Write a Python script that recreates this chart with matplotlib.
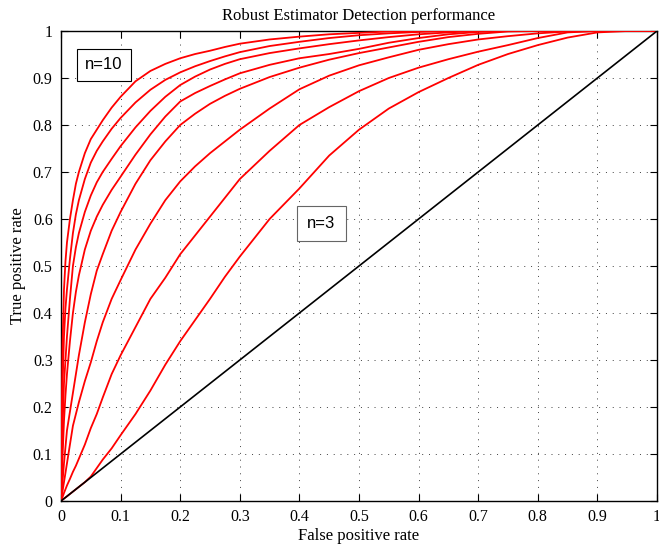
import matplotlib
matplotlib.use("Agg")
import matplotlib.pyplot as plt

# False-positive-rate sample points shared by all ROC curves
fpr = [0, 0.0025, 0.005, 0.0075, 0.01, 0.015, 0.02, 0.025, 0.03, 0.04,
       0.05, 0.06, 0.07, 0.085, 0.1, 0.125, 0.15, 0.175, 0.2, 0.225, 0.25,
       0.275, 0.3, 0.35, 0.4, 0.45, 0.5, 0.55, 0.6, 0.65, 0.7, 0.75, 0.8,
       0.85, 0.9, 0.95, 1.0]

# True positive rate for each sample size n
tpr_n10 = [0, .33, .45, .51, .55, .60, .64, .675, .70, .74,
           .77, .79, .81, .837, .86, .893, .915, .93, .942, .951, .958,
           .966, .973, .982, .988, .993, .996, .999, 1, 1, 1, 1, 1,
           1, 1, 1, 1]
tpr_n9 = [0, .24, .35, .41, .45, .515, .57, .61, .64, .685,
          .72, .745, .765, .792, .815, .848, .875, .896, .912, .925, .936,
          .946, .955, .968, .977, .985, .991, .995, .998, 1, 1, 1, 1,
          1, 1, 1, 1]
tpr_n8 = [0, .15, .25, .30, .35, .43, .50, .54, .57, .615,
          .65, .678, .70, .728, .755, .795, .83, .86, .885, .903, .918,
          .93, .94, .953, .963, .972, .98, .987, .993, .997, 1, 1, 1,
          1, 1, 1, 1]
tpr_n7 = [0, .09, .17, .225, .27, .34, .40, .445, .48, .535,
          .575, .605, .63, .662, .69, .737, .78, .818, .85, .868, .883,
          .897, .91, .928, .942, .951, .962, .975, .985, .993, .998, 1, 1,
          1, 1, 1, 1]
tpr_n6 = [0, .04, .08, .115, .15, .19, .23, .27, .31, .38,
          .44, .49, .525, .575, .615, .675, .725, .765, .80, .824, .845,
          .862, .877, .902, .922, .939, .953, .965, .977, .987, .994, .999, 1,
          1, 1, 1, 1]
tpr_n5 = [0, .02, .04, .06, .08, .12, .16, .185, .21, .255,
          .295, .34, .38, .43, .47, .535, .59, .64, .68, .712, .74,
          .765, .79, .835, .876, .905, .927, .944, .96, .972, .982, .989, .995,
          .999, 1, 1, 1]
tpr_n4 = [0, .008, .017, .025, .033, .047, .062, .075, .09, .12,
          .155, .185, .22, .27, .31, .37, .43, .475, .525, .565, .605,
          .645, .685, .745, .80, .838, .872, .90, .922, .94, .956, .97, .985,
          .997, 1, 1, 1]
tpr_n3 = [0, .0025, .005, .0075, .01, .015, .02, .025, .03, .04,
          .052, .07, .088, .112, .14, .185, .235, .29, .34, .385, .43,
          .477, .52, .60, .665, .735, .79, .835, .87, .90, .928, .951, .97,
          .986, .997, 1, 1]

curves = [tpr_n10, tpr_n9, tpr_n8, tpr_n7, tpr_n6, tpr_n5, tpr_n4, tpr_n3]

chance = [0, 1]

ticks = [0, 0.1, 0.2, 0.3, 0.4, 0.5, 0.6, 0.7, 0.8, 0.9, 1]
tick_labels = ["0", "0.1", "0.2", "0.3", "0.4", "0.5", "0.6", "0.7", "0.8", "0.9", "1"]

serif = ["Liberation Serif", "DejaVu Serif"]
sans = ["Liberation Sans", "DejaVu Sans"]

fig = plt.figure(figsize=(6.59, 5.44), dpi=100)
ax = fig.add_axes([61 / 659, 43 / 544, 596 / 659, 470 / 544])

for tpr in curves:
    ax.plot(fpr, tpr, color="red", lw=1.3, zorder=3)
ax.plot(chance, chance, color="black", lw=1.2, zorder=3)

ax.set_xlim(0, 1)
ax.set_ylim(0, 1)
ax.set_xticks(ticks)
ax.set_yticks(ticks)
ax.set_xticklabels(tick_labels, family=serif, fontsize=11.5)
ax.set_yticklabels(tick_labels, family=serif, fontsize=11.5)
ax.tick_params(direction="in", length=5, width=0.8, top=True, right=True,
               pad=6)
ax.grid(True, color="0.25", linestyle=(0, (1, 6)), lw=0.7)
for s in ax.spines.values():
    s.set_linewidth(1.0)

ax.set_title("Robust Estimator Detection performance", family=serif,
             fontsize=12, pad=8)
ax.set_xlabel("False positive rate", family=serif, fontsize=12, labelpad=2)
ax.set_ylabel("True positive rate", family=serif, fontsize=12, labelpad=5)

ax.text(0.072, 0.928, "n=10", family=sans, fontsize=12, ha="center",
        va="center", zorder=4,
        bbox=dict(boxstyle="square,pad=0.5", fc="white", ec="black", lw=0.8))
ax.text(0.437, 0.591, "n=3", family=sans, fontsize=12, ha="center",
        va="center", zorder=4,
        bbox=dict(boxstyle="square,pad=0.6", fc="white", ec="0.4", lw=0.8))

fig.savefig("out.png", dpi=100)
